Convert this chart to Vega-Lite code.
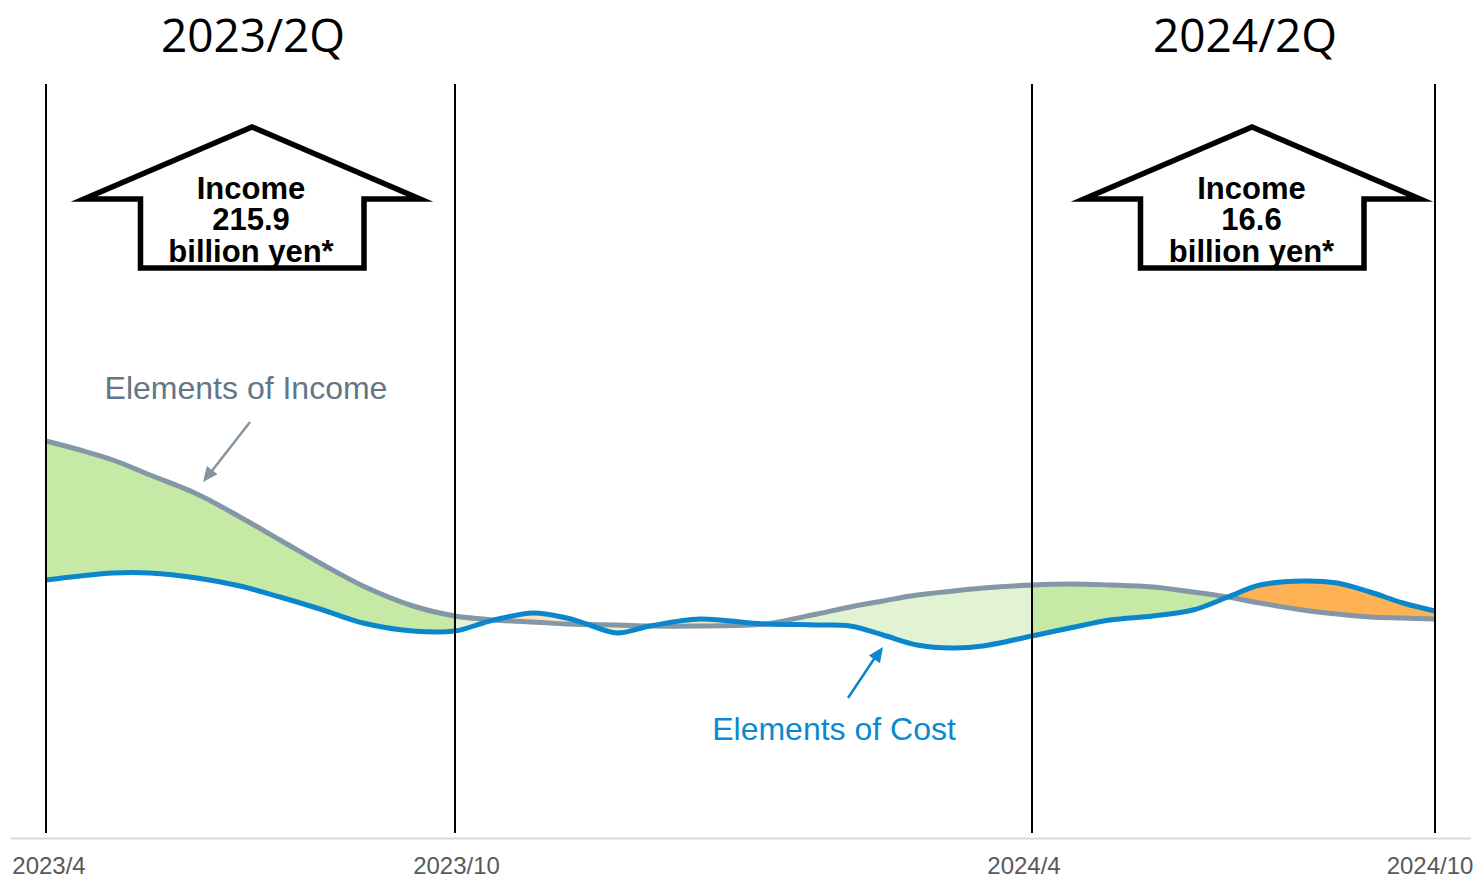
{
  "$schema": "https://vega.github.io/schema/vega-lite/v6.json",
  "width": 1460,
  "height": 838,
  "autosize": {"type": "none"},
  "padding": {"left": 10, "top": 0, "right": 7, "bottom": 40},
  "background": "white",
  "config": {
    "view": {"stroke": null},
    "axisX": {"labels": false, "ticks": false, "grid": false, "domainColor": "#d9d9d9", "domainWidth": 2},
    "axisY": {"domain": false, "labels": false, "ticks": false, "grid": false}
  },
  "datasets": {
    "curve": [
      {"t": 4.6, "income": 39.7, "cost": 25.8, "zones": ["z1"]},
      {"t": 8.0, "income": 38.8, "cost": 26.2, "zones": ["z1"]},
      {"t": 11.3, "income": 37.8, "cost": 26.5, "zones": ["z1"]},
      {"t": 15.0, "income": 36.3, "cost": 26.5, "zones": ["z1"]},
      {"t": 19.7, "income": 34.4, "cost": 26.0, "zones": ["z1"]},
      {"t": 24.0, "income": 32.1, "cost": 25.2, "zones": ["z1"]},
      {"t": 28.0, "income": 29.8, "cost": 24.1, "zones": ["z1"]},
      {"t": 32.0, "income": 27.5, "cost": 22.9, "zones": ["z1"]},
      {"t": 36.3, "income": 25.2, "cost": 21.5, "zones": ["z1"]},
      {"t": 41.3, "income": 23.2, "cost": 20.7, "zones": ["z1"]},
      {"t": 45.5, "income": 22.2, "cost": 20.7, "zones": ["z1", "z2"]},
      {"t": 48.3, "income": 21.9, "cost": 21.5, "zones": ["z2"]},
      {"t": 49.4, "income": 21.8, "cost": 21.8, "zones": ["z2", "z3"]},
      {"t": 53.3, "income": 21.6, "cost": 22.5, "zones": ["z3"]},
      {"t": 56.7, "income": 21.4, "cost": 22.0, "zones": ["z3"]},
      {"t": 58.8, "income": 21.35, "cost": 21.35, "zones": ["z3", "z4"]},
      {"t": 61.7, "income": 21.3, "cost": 20.5, "zones": ["z4"]},
      {"t": 65.0, "income": 21.2, "cost": 21.2, "zones": ["z4", "z5"]},
      {"t": 70.0, "income": 21.2, "cost": 21.9, "zones": ["z5"]},
      {"t": 75.0, "income": 21.3, "cost": 21.5, "zones": ["z5"]},
      {"t": 76.6, "income": 21.4, "cost": 21.4, "zones": ["z5", "z6"]},
      {"t": 81.7, "income": 22.4, "cost": 21.3, "zones": ["z6"]},
      {"t": 85.0, "income": 23.1, "cost": 21.2, "zones": ["z6"]},
      {"t": 88.3, "income": 23.7, "cost": 20.3, "zones": ["z6"]},
      {"t": 91.7, "income": 24.3, "cost": 19.3, "zones": ["z6"]},
      {"t": 95.3, "income": 24.7, "cost": 19.0, "zones": ["z6"]},
      {"t": 98.3, "income": 25.0, "cost": 19.2, "zones": ["z6"]},
      {"t": 103.2, "income": 25.3, "cost": 20.2, "zones": ["z6", "z7"]},
      {"t": 107.0, "income": 25.4, "cost": 21.0, "zones": ["z7"]},
      {"t": 111.0, "income": 25.3, "cost": 21.8, "zones": ["z7"]},
      {"t": 115.3, "income": 25.1, "cost": 22.2, "zones": ["z7"]},
      {"t": 119.3, "income": 24.6, "cost": 22.8, "zones": ["z7"]},
      {"t": 122.8, "income": 24.1, "cost": 24.1, "zones": ["z7", "z8"]},
      {"t": 126.0, "income": 23.5, "cost": 25.3, "zones": ["z8"]},
      {"t": 130.3, "income": 22.8, "cost": 25.7, "zones": ["z8"]},
      {"t": 133.7, "income": 22.4, "cost": 25.5, "zones": ["z8"]},
      {"t": 137.0, "income": 22.1, "cost": 24.6, "zones": ["z8"]},
      {"t": 140.3, "income": 22.0, "cost": 23.5, "zones": ["z8"]},
      {"t": 143.5, "income": 21.9, "cost": 22.7, "zones": ["z8"]}
    ],
    "arrows": [
      {"arrow": "2023/2Q", "i": 0, "t": 25.2, "v": 57.0},
      {"arrow": "2023/2Q", "i": 1, "t": 36.4, "v": 57.0},
      {"arrow": "2023/2Q", "i": 2, "t": 36.4, "v": 63.9},
      {"arrow": "2023/2Q", "i": 3, "t": 42.0, "v": 63.9},
      {"arrow": "2023/2Q", "i": 4, "t": 25.2, "v": 71.1},
      {"arrow": "2023/2Q", "i": 5, "t": 8.4, "v": 63.9},
      {"arrow": "2023/2Q", "i": 6, "t": 14.05, "v": 63.9},
      {"arrow": "2023/2Q", "i": 7, "t": 14.05, "v": 57.0},
      {"arrow": "2023/2Q", "i": 8, "t": 25.2, "v": 57.0},
      {"arrow": "2024/2Q", "i": 0, "t": 125.2, "v": 57.0},
      {"arrow": "2024/2Q", "i": 1, "t": 136.4, "v": 57.0},
      {"arrow": "2024/2Q", "i": 2, "t": 136.4, "v": 63.9},
      {"arrow": "2024/2Q", "i": 3, "t": 142.0, "v": 63.9},
      {"arrow": "2024/2Q", "i": 4, "t": 125.2, "v": 71.1},
      {"arrow": "2024/2Q", "i": 5, "t": 108.4, "v": 63.9},
      {"arrow": "2024/2Q", "i": 6, "t": 114.05, "v": 63.9},
      {"arrow": "2024/2Q", "i": 7, "t": 114.05, "v": 57.0},
      {"arrow": "2024/2Q", "i": 8, "t": 125.2, "v": 57.0}
    ]
  },
  "layer": [
    {
      "data": {"name": "curve"},
      "transform": [{"flatten": ["zones"], "as": ["zone"]}],
      "mark": {"type": "area", "interpolate": "catmull-rom", "opacity": 1},
      "encoding": {
        "x": {"field": "t", "type": "quantitative", "scale": {"domain": [1, 147], "nice": false, "zero": false}, "title": null},
        "y": {"field": "income", "type": "quantitative", "scale": {"domain": [0, 83.8], "nice": false, "zero": false}, "title": null},
        "y2": {"field": "cost"},
        "color": {
          "field": "zone", "type": "nominal", "legend": null,
          "scale": {
            "domain": ["z1", "z2", "z3", "z4", "z5", "z6", "z7", "z8"],
            "range": ["#c6e9a5", "#e2f3d4", "#fce1c4", "#e2f3d4", "#fce1c4", "#e2f3d4", "#c6e9a5", "#ffb253"]
          }
        }
      }
    },
    {
      "data": {"name": "curve"},
      "mark": {"type": "line", "interpolate": "catmull-rom", "color": "#8497a6", "strokeWidth": 5},
      "encoding": {
        "x": {"field": "t", "type": "quantitative", "scale": {"domain": [1, 147], "nice": false, "zero": false}, "title": null},
        "y": {"field": "income", "type": "quantitative", "scale": {"domain": [0, 83.8], "nice": false, "zero": false}, "title": null}
      }
    },
    {
      "data": {"name": "curve"},
      "mark": {"type": "line", "interpolate": "catmull-rom", "color": "#0a87cc", "strokeWidth": 5},
      "encoding": {
        "x": {"field": "t", "type": "quantitative", "scale": {"domain": [1, 147], "nice": false, "zero": false}, "title": null},
        "y": {"field": "cost", "type": "quantitative", "scale": {"domain": [0, 83.8], "nice": false, "zero": false}, "title": null}
      }
    },
    {
      "data": {"values": [{"t": 4.6}, {"t": 45.5}, {"t": 103.2}, {"t": 143.5}]},
      "mark": {"type": "rule", "color": "#000000", "strokeWidth": 2},
      "encoding": {
        "x": {"field": "t", "type": "quantitative", "scale": {"domain": [1, 147], "nice": false, "zero": false}, "title": null},
        "y": {"datum": 0.5, "type": "quantitative", "scale": {"domain": [0, 83.8], "nice": false, "zero": false}, "title": null},
        "y2": {"datum": 75.4}
      }
    },
    {
      "data": {"name": "arrows"},
      "mark": {"type": "line", "color": "#000000", "strokeWidth": 5.5, "strokeJoin": "miter", "strokeMiterLimit": 10, "strokeCap": "butt"},
      "encoding": {
        "x": {"field": "t", "type": "quantitative", "scale": {"domain": [1, 147], "nice": false, "zero": false}, "title": null},
        "y": {"field": "v", "type": "quantitative", "scale": {"domain": [0, 83.8], "nice": false, "zero": false}, "title": null},
        "order": {"field": "i", "type": "quantitative"},
        "detail": {"field": "arrow", "type": "nominal"}
      }
    },
    {
      "data": {"values": [
        {"t": 25.1, "v": 63.95, "label": "Income\n215.9\nbillion yen*"},
        {"t": 125.15, "v": 63.95, "label": "Income\n16.6\nbillion yen*"}
      ]},
      "mark": {"type": "text", "font": "Liberation Sans", "fontWeight": "bold", "fontSize": 31, "lineHeight": 31.8, "lineBreak": "\n", "align": "center", "baseline": "alphabetic", "color": "#000000"},
      "encoding": {
        "x": {"field": "t", "type": "quantitative", "scale": {"domain": [1, 147], "nice": false, "zero": false}, "title": null},
        "y": {"field": "v", "type": "quantitative", "scale": {"domain": [0, 83.8], "nice": false, "zero": false}, "title": null},
        "text": {"field": "label", "type": "nominal"}
      }
    },
    {
      "data": {"values": [
        {"t": 25.3, "v": 78.6, "label": "2023/2Q"},
        {"t": 124.5, "v": 78.6, "label": "2024/2Q"}
      ]},
      "mark": {"type": "text", "font": "Open Sans", "fontSize": 46, "align": "center", "baseline": "alphabetic", "color": "#000000"},
      "encoding": {
        "x": {"field": "t", "type": "quantitative", "scale": {"domain": [1, 147], "nice": false, "zero": false}, "title": null},
        "y": {"field": "v", "type": "quantitative", "scale": {"domain": [0, 83.8], "nice": false, "zero": false}, "title": null},
        "text": {"field": "label", "type": "nominal"}
      }
    },
    {
      "data": {"values": [{"t": 24.6, "v": 43.9, "label": "Elements of Income"}]},
      "mark": {"type": "text", "font": "Liberation Sans", "fontSize": 32, "align": "center", "baseline": "alphabetic", "color": "#637687"},
      "encoding": {
        "x": {"field": "t", "type": "quantitative", "scale": {"domain": [1, 147], "nice": false, "zero": false}, "title": null},
        "y": {"field": "v", "type": "quantitative", "scale": {"domain": [0, 83.8], "nice": false, "zero": false}, "title": null},
        "text": {"field": "label", "type": "nominal"}
      }
    },
    {
      "data": {"values": [{"t": 83.4, "v": 9.8, "label": "Elements of Cost"}]},
      "mark": {"type": "text", "font": "Liberation Sans", "fontSize": 32, "align": "center", "baseline": "alphabetic", "color": "#0a89d0"},
      "encoding": {
        "x": {"field": "t", "type": "quantitative", "scale": {"domain": [1, 147], "nice": false, "zero": false}, "title": null},
        "y": {"field": "v", "type": "quantitative", "scale": {"domain": [0, 83.8], "nice": false, "zero": false}, "title": null},
        "text": {"field": "label", "type": "nominal"}
      }
    },
    {
      "data": {"values": [{"t": 25.0, "v": 41.6, "t2": 20.8, "v2": 36.2}]},
      "mark": {"type": "rule", "color": "#8395a3", "strokeWidth": 2.5},
      "encoding": {
        "x": {"field": "t", "type": "quantitative", "scale": {"domain": [1, 147], "nice": false, "zero": false}, "title": null},
        "y": {"field": "v", "type": "quantitative", "scale": {"domain": [0, 83.8], "nice": false, "zero": false}, "title": null},
        "x2": {"field": "t2"},
        "y2": {"field": "v2"}
      }
    },
    {
      "data": {"values": [{"t": 20.3, "v": 35.6}]},
      "mark": {"type": "point", "shape": "M0,0L0.45,1L-0.45,1Z", "size": 900, "filled": true, "opacity": 1, "color": "#8395a3", "strokeWidth": 0, "angle": 218},
      "encoding": {
        "x": {"field": "t", "type": "quantitative", "scale": {"domain": [1, 147], "nice": false, "zero": false}, "title": null},
        "y": {"field": "v", "type": "quantitative", "scale": {"domain": [0, 83.8], "nice": false, "zero": false}, "title": null}
      }
    },
    {
      "data": {"values": [{"t": 84.8, "v": 14.0, "t2": 87.8, "v2": 18.5}]},
      "mark": {"type": "rule", "color": "#0a87cc", "strokeWidth": 2.5},
      "encoding": {
        "x": {"field": "t", "type": "quantitative", "scale": {"domain": [1, 147], "nice": false, "zero": false}, "title": null},
        "y": {"field": "v", "type": "quantitative", "scale": {"domain": [0, 83.8], "nice": false, "zero": false}, "title": null},
        "x2": {"field": "t2"},
        "y2": {"field": "v2"}
      }
    },
    {
      "data": {"values": [{"t": 88.3, "v": 19.1}]},
      "mark": {"type": "point", "shape": "M0,0L0.45,1L-0.45,1Z", "size": 900, "filled": true, "opacity": 1, "color": "#0a87cc", "strokeWidth": 0, "angle": 35},
      "encoding": {
        "x": {"field": "t", "type": "quantitative", "scale": {"domain": [1, 147], "nice": false, "zero": false}, "title": null},
        "y": {"field": "v", "type": "quantitative", "scale": {"domain": [0, 83.8], "nice": false, "zero": false}, "title": null}
      }
    },
    {
      "data": {"values": [
        {"t": 4.9, "label": "2023/4"},
        {"t": 45.65, "label": "2023/10"},
        {"t": 102.4, "label": "2024/4"},
        {"t": 143.0, "label": "2024/10"}
      ]},
      "mark": {"type": "text", "font": "Liberation Sans", "fontSize": 24, "align": "center", "baseline": "alphabetic", "color": "#595959"},
      "encoding": {
        "x": {"field": "t", "type": "quantitative", "scale": {"domain": [1, 147], "nice": false, "zero": false}, "title": null},
        "y": {"datum": -3.6, "type": "quantitative", "scale": {"domain": [0, 83.8], "nice": false, "zero": false}, "title": null},
        "text": {"field": "label", "type": "nominal"}
      }
    }
  ]
}
